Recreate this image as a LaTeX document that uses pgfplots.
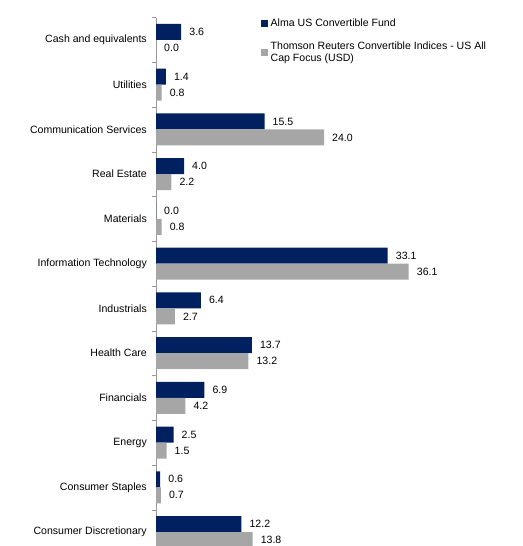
\documentclass[border=0pt]{standalone}
\usepackage{pgfplots}
\pgfplotsset{compat=1.18}
\usepackage{fontspec}
\setmainfont{Liberation Sans}
\definecolor{navy}{RGB}{0,32,96}
\definecolor{lgrey}{RGB}{166,166,166}
\begin{document}
\begin{tikzpicture}[font=\fontsize{10.6}{12.6}\selectfont]
\useasboundingbox (0,0) rectangle (523bp,546bp);
\begin{axis}[
  at={(156bp,-8.4bp)}, anchor=south west,
  scale only axis, width=350bp, height=536.8bp,
  xmin=0, xmax=50, ymin=-0.5, ymax=11.5,
  xbar, bar width=16bp,
  axis x line=none,
  axis y line=left,
  y axis line style={-, draw=gray!80},
  ytick={0,...,11},
  yticklabels={Consumer Discretionary,Consumer Staples,Energy,Financials,Health Care,Industrials,Information Technology,Materials,Real Estate,Communication Services,Utilities,Cash and equivalents},
  major tick length=0pt,
  yticklabel style={anchor=east, xshift=-9bp, inner sep=0pt},
  extra y ticks={-0.5,0.5,...,11.5},
  extra y tick labels={},
  extra y tick style={major tick length=4bp, tick align=outside, tick style={draw=gray!80}},
  /pgf/number format/.cd, fixed, fixed zerofill, precision=1, assume math mode=true, /pgfplots/.cd,
  nodes near coords,
  every node near coord/.append style={anchor=west, inner sep=0pt, xshift=8bp, font=\fontsize{10.6}{12.6}\selectfont},
  legend style={draw=none, fill=none, at={(0.3,1)}, anchor=north west, yshift=1bp, inner sep=0pt, row sep=8bp,
    nodes={align=left, inner sep=2.5bp, font=\fontsize{10.6}{12.6}\selectfont}},
  legend cell align=left,
  legend image code/.code={\fill[#1] (0bp,-3.5bp) rectangle (7bp,3.5bp);},
]
\addplot[fill=navy, draw=none, bar shift=8bp] coordinates {
(12.2,0) (0.6,1) (2.5,2) (6.9,3) (13.7,4) (6.4,5) (33.1,6) (0.0,7) (4.0,8) (15.5,9) (1.4,10) (3.6,11)};
\addplot[fill=lgrey, draw=none, bar shift=-8bp] coordinates {
(13.8,0) (0.7,1) (1.5,2) (4.2,3) (13.2,4) (2.7,5) (36.1,6) (0.8,7) (2.2,8) (24.0,9) (0.8,10) (0.0,11)};
\legend{Alma US Convertible Fund, Thomson Reuters Convertible Indices - US All\\Cap Focus (USD)}
\end{axis}
\end{tikzpicture}
\end{document}
